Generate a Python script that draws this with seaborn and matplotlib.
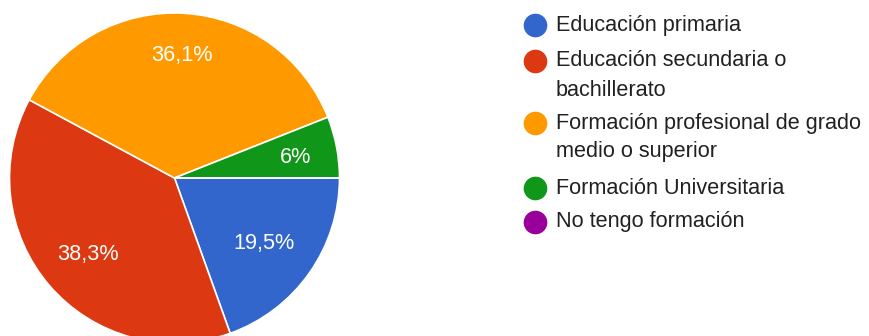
import numpy as np
import matplotlib
matplotlib.use("Agg")
import matplotlib.pyplot as plt
import seaborn as sns

# Survey results: highest level of education
categories = [
    "Educación primaria",
    "Educación secundaria o\nbachillerato",
    "Formación profesional de grado\nmedio o superior",
    "Formación Universitaria",
    "No tengo formación",
]
percentages = [19.5, 38.3, 36.1, 6.0, 0.0]
pct_labels = ["19,5%", "38,3%", "36,1%", "6%", ""]
colors = ["#3366cc", "#dc3912", "#ff9900", "#109618", "#990099"]

sns.set_theme(style="white")
plt.rcParams["font.family"] = ["Liberation Sans", "DejaVu Sans"]

W, H = 869, 336
fig = plt.figure(figsize=(W / 100, H / 100), dpi=100)
ax = fig.add_axes([0, 0, 1, 1])

center = (174.5, H - 178)
radius = 165
wedges, _ = ax.pie(
    percentages,
    colors=colors,
    startangle=0,
    counterclock=False,
    center=center,
    radius=radius,
    wedgeprops=dict(edgecolor="white", linewidth=1.2),
    frame=True,
)
ax.set_xlim(0, W)
ax.set_ylim(0, H)
ax.set_aspect("equal")
ax.axis("off")

# Percentage labels placed along each wedge's bisector
label_dist = [0.66, 0.69, 0.76, 0.75, 0.7]
for w, txt, d in zip(wedges, pct_labels, label_dist):
    if not txt:
        continue
    mid = np.deg2rad((w.theta1 + w.theta2) / 2)
    x = center[0] + d * radius * np.cos(mid)
    y = center[1] + d * radius * np.sin(mid)
    ax.text(x, y, txt, color="white", fontsize=15.6, ha="center",
            va="center_baseline")

# Legend with round markers and wrapped labels
legend_rows = [25, 61, 123, 188, 222]
line_step = 29
for cat, col, ypx in zip(categories, colors, legend_rows):
    ax.plot(535, H - ypx, "o", markersize=16, color=col, clip_on=False)
    for i, line in enumerate(cat.split("\n")):
        ax.text(556, H - ypx - i * line_step, line, fontsize=15.6,
                color="#212121", ha="left", va="center")

fig.savefig("out.png", dpi=100)
